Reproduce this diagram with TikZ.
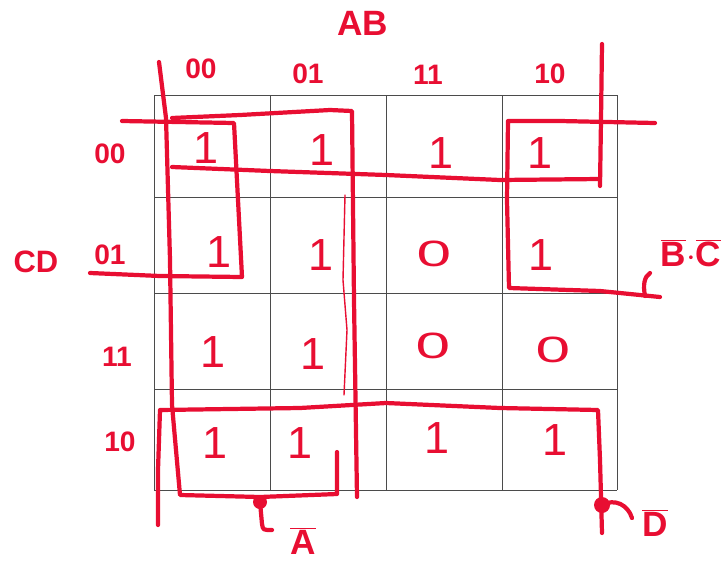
\documentclass[tikz,border=0pt]{standalone}
\usepackage{fontspec}
\setmainfont{Liberation Sans}
\definecolor{inkred}{RGB}{232, 14, 50}
\definecolor{gridgray}{RGB}{75, 75, 75}
\newcommand{\wideo}{\scalebox{1.7}[1]{0}}
\newcommand{\negvar}[1]{$\overline{\mbox{#1}}$}

\begin{document}
\begin{tikzpicture}[
        x=0.025cm, y=-0.025cm,
        cellval/.style={text=inkred, inner sep=0pt, font=\fontsize{32}{32}\selectfont},
        cellzero/.style={text=inkred, inner sep=0pt, font=\fontsize{26}{26}\selectfont},
        axislbl/.style={text=inkred, inner sep=0pt, font=\fontsize{20}{20}\selectfont\bfseries},
        varlbl/.style={text=inkred, inner sep=0pt, font=\fontsize{25}{25}\selectfont\bfseries},
        gridline/.style={draw=gridgray, line width=0.7pt},
        grpline/.style={draw=inkred, line width=3pt, line cap=round, line join=round},
        thinink/.style={draw=inkred, line width=1pt, line cap=round},
        tagdot/.style={fill=inkred, draw=none}
    ]
    \useasboundingbox (0,0) rectangle (725,561);

    %% --- Map grid (4 x 4) ---
    \foreach \gx in {154,270,386,502,617}
        \draw[gridline] (\gx,95) -- (\gx,490);
    \foreach \gy in {95,197,293,389,490}
        \draw[gridline] (154,\gy) -- (617,\gy);

    %% --- Variable names and Gray-code labels ---
    \node[varlbl] (ablbl) at (363,23) {AB};
    \node[axislbl, font=\fontsize{22}{22}\selectfont\bfseries] (cdlbl) at (36,262) {CD};
    \node[axislbl] (col00) at (201,69) {00};
    \node[axislbl] (col01) at (308,74) {01};
    \node[axislbl] (col11) at (428,75) {11};
    \node[axislbl] (col10) at (550,74) {10};
    \node[axislbl] (row00) at (110,154) {00};
    \node[axislbl] (row01) at (110,255) {01};
    \node[axislbl] (row11) at (117,357) {11};
    \node[axislbl] (row10) at (120,442) {10};

    %% --- Cell values, row CD=00 ---
    \node[cellval] (r00c00) at (206,148) {1};
    \node[cellval] (r00c01) at (322,150) {1};
    \node[cellval] (r00c11) at (441,153) {1};
    \node[cellval] (r00c10) at (540,153) {1};
    %% --- row CD=01 ---
    \node[cellval]  (r01c00) at (219,252) {1};
    \node[cellval]  (r01c01) at (321,255) {1};
    \node[cellzero] (r01c11) at (434,254) {\wideo};
    \node[cellval]  (r01c10) at (541,255) {1};
    %% --- row CD=11 ---
    \node[cellval]  (r11c00) at (213,352) {1};
    \node[cellval]  (r11c01) at (313,354) {1};
    \node[cellzero] (r11c11) at (433,346) {\wideo};
    \node[cellzero] (r11c10) at (553,350) {\wideo};
    %% --- row CD=10 ---
    \node[cellval] (r10c00) at (215,443) {1};
    \node[cellval] (r10c01) at (300,443) {1};
    \node[cellval] (r10c11) at (437,438) {1};
    \node[cellval] (r10c10) at (555,440) {1};

    %% --- Group A-bar: columns 00 and 01 ---
    \draw[grpline] (159,62) -- (166,118) -- (170,260) -- (172,405) -- (180,495)
        -- (260,497) -- (337,494) -- (337,452);
    \draw[grpline] (172,118) -- (240,115) -- (330,110) -- (352,111)
        -- (354,300) -- (357,497);
    \draw[thinink] (345,195) -- (343,280) -- (347,330) -- (344,395);

    %% --- Group B-bar.C-bar: four cells, split over both edges ---
    \draw[grpline] (122,121) -- (234,123) -- (238,200) -- (242,277)
        -- (160,276) -- (90,273);
    \draw[grpline] (655,123) -- (560,121) -- (508,121) -- (507,200)
        -- (509,288) -- (600,291) -- (660,297);

    %% --- Group D-bar: rows 00 and 10, open past the top and bottom ---
    \draw[grpline] (172,167) -- (270,171) -- (386,175) -- (500,180) -- (600,179);
    \draw[grpline] (602,44) -- (601,120) -- (600,186);
    \draw[grpline] (158,525) -- (158,470) -- (160,410) -- (300,408)
        -- (386,403) -- (500,408) -- (598,410) -- (600,460) -- (602,533);

    %% --- Tags and term names ---
    \fill[tagdot] (260,502) circle (7);
    \draw[grpline] (260,502) -- (262,524) .. controls (263,530) .. (272,530);
    \node[varlbl] (nota) at (303,541) {\negvar{A}};

    \draw[grpline] (645,296) .. controls (643,285) and (644,277) .. (650,273);
    \node[varlbl] (notbc) at (691,253) {\negvar{B}$\cdot$\negvar{C}};

    \fill[tagdot] (602,505) circle (8);
    \draw[grpline] (602,505) .. controls (615,498) and (628,505) .. (632,518);
    \node[varlbl] (notd) at (655,523) {\negvar{D}};

\end{tikzpicture}
\end{document}
